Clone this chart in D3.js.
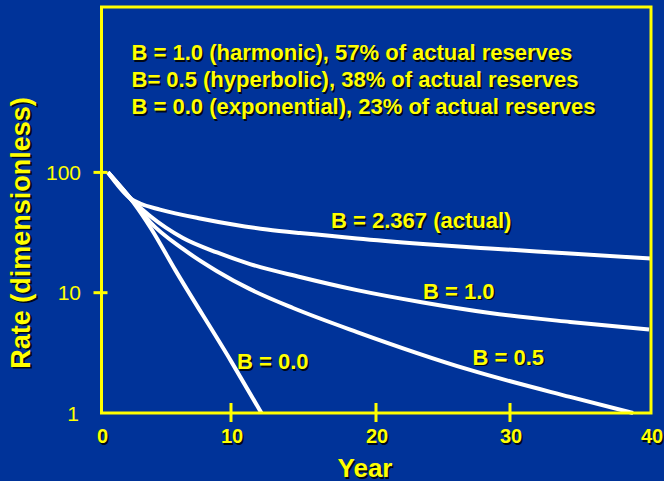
<!DOCTYPE html>
<html>
<head>
<meta charset="utf-8">
<script src="https://cdn.jsdelivr.net/npm/d3@7"></script>
<style>
  html, body { margin: 0; padding: 0; background: #003399; }
  svg { display: block; }
</style>
</head>
<body>
<svg id="chart" width="664" height="481"></svg>
<script>
// Decline curves: rate vs. time for different Arps b exponents
const actualYears = [0.5, 2.28, 2.97, 4.52, 7.61, 10.14, 12.48, 14.76, 16.97, 18.69, 23.51, 28.51, 34.26, 40.0];
const actualRates = [100, 60.1, 55.1, 49.1, 41.4, 36.9, 33.5, 31.3, 29.6, 28.2, 25.4, 23.3, 21.2, 19.2];

const harmonicYears = [0.5, 2.47, 3.75, 6.29, 8.92, 11.31, 14.76, 18.69, 23.51, 28.51, 34.26, 39.86];
const harmonicRates = [100, 57.3, 43.4, 28.5, 21.6, 17.3, 13.5, 10.5, 8.29, 6.78, 5.71, 4.94];

const hyperbolicYears = [0.5, 2.51, 3.75, 6.29, 8.92, 11.31, 14.28, 18.69, 27.01, 34.26, 38.73];
const hyperbolicRates = [100, 56.2, 38.7, 23.1, 15.1, 10.7, 7.46, 4.71, 2.28, 1.36, 1.0];

const exponentialYears = [0.5, 2.5, 3.8, 5.7, 10.0, 12.1];
const exponentialRates = [100, 55.5, 34.5, 15.4, 2.7, 1.0];

const curveLabels = ["B = 2.367 (actual)", "B = 1.0", "B = 0.5", "B = 0.0"];
const notes = [
  "B = 1.0 (harmonic), 57% of actual reserves",
  "B= 0.5 (hyperbolic), 38% of actual reserves",
  "B = 0.0 (exponential), 23% of actual reserves"
];
const xTicks = [0, 10, 20, 30, 40];
const yTicks = [1, 10, 100];
const xTitle = "Year";
const yTitle = "Rate (dimensionless)";

const YELLOW = "#ffff00";
const SHADOW = "#000000";
const FONT = "'Liberation Sans', Arial, Helvetica, sans-serif";

const svg = d3.select("#chart");
svg.append("rect").attr("width", 664).attr("height", 481).attr("fill", "#003399");

// Frame bounds
const frameLeft = 101.5, frameRight = 651, frameTop = 7, frameBottom = 413;

// Year axis as drawn on the slide: gridpoints are not evenly spaced
const x = d3.scaleLinear().domain(xTicks).range([frameLeft, 231, 376, 510, frameRight]);
// Rate axis: three decades plus headroom for the notes
const y = d3.scaleLog().domain([1, 2370]).range([frameBottom, frameTop]);

// Yellow text with a soft dark drop shadow
function shadowText(sel, str, px, py, opts) {
  const g = sel.append("g")
    .attr("transform", `translate(${px},${py})${opts.rotate ? ` rotate(${opts.rotate})` : ""}`);
  const base = t => t.text(str)
    .attr("font-family", FONT)
    .attr("font-size", opts.size)
    .attr("font-weight", opts.weight || "bold")
    .attr("text-anchor", opts.anchor || "start");
  const sdx = opts.rotate ? -1.5 : 1.5;
  base(g.append("text")).attr("x", sdx).attr("y", 1.5)
    .attr("fill", SHADOW).attr("fill-opacity", 0.85);
  base(g.append("text")).attr("fill", YELLOW);
  return g;
}

// Decline curves
const line = d3.line()
  .x(d => x(d[0]))
  .y(d => y(d[1]))
  .curve(d3.curveMonotoneX);

const series = [
  d3.zip(actualYears, actualRates),
  d3.zip(harmonicYears, harmonicRates),
  d3.zip(hyperbolicYears, hyperbolicRates),
  d3.zip(exponentialYears, exponentialRates)
];

svg.append("g").selectAll("path")
  .data(series)
  .join("path")
  .attr("d", line)
  .attr("fill", "none")
  .attr("stroke", "#ffffff")
  .attr("stroke-width", 4)
  .attr("stroke-linejoin", "round");

// Frame
svg.append("rect")
  .attr("x", frameLeft).attr("y", frameTop)
  .attr("width", frameRight - frameLeft).attr("height", frameBottom - frameTop)
  .attr("fill", "none").attr("stroke", YELLOW).attr("stroke-width", 3);

// X tick marks (interior ticks only; the ends sit on the frame corners)
svg.append("g").selectAll("line")
  .data(xTicks.slice(1, -1))
  .join("line")
  .attr("x1", d => x(d)).attr("x2", d => x(d))
  .attr("y1", frameBottom - 10).attr("y2", frameBottom + 9)
  .attr("stroke", YELLOW).attr("stroke-width", 3);

// Y tick marks
svg.append("g").selectAll("line")
  .data(yTicks.slice(1))
  .join("line")
  .attr("x1", frameLeft - 8).attr("x2", frameLeft + 6)
  .attr("y1", d => y(d)).attr("y2", d => y(d))
  .attr("stroke", YELLOW).attr("stroke-width", 3);

// X tick labels
xTicks.forEach(v => {
  shadowText(svg, String(v), x(v) + 1, 443, { size: 20, anchor: "middle" });
});

// Y tick labels
svg.append("g").selectAll("text")
  .data(yTicks)
  .join("text")
  .attr("x", d => d === 1 ? 79 : 81)
  .attr("y", d => y(d) + 7.5)
  .attr("text-anchor", "end")
  .attr("font-family", FONT)
  .attr("font-size", 21)
  .attr("fill", YELLOW)
  .text(d => String(d));

// Axis titles
shadowText(svg, xTitle, 365, 477, { size: 26, anchor: "middle" });
shadowText(svg, yTitle, 30, 233, { size: 27, anchor: "middle", rotate: -90 });

// Notes block
notes.forEach((s, i) => {
  shadowText(svg, s, 131.5, 60 + i * 27.2, { size: 22 });
});

// Curve labels
const labelAt = [[331, 228], [423, 298.5], [472.5, 364.5], [237, 369]];
curveLabels.forEach((s, i) => {
  shadowText(svg, s, labelAt[i][0], labelAt[i][1], { size: 22 });
});
</script>
</body>
</html>
